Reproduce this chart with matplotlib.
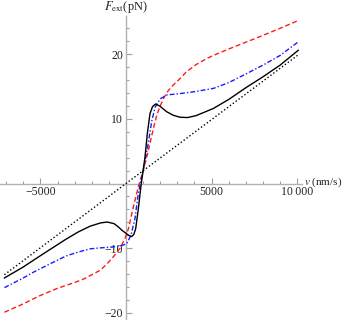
import matplotlib
matplotlib.use("Agg")
import matplotlib.pyplot as plt
from matplotlib.ticker import MultipleLocator, FixedLocator

plt.rcParams['mathtext.fontset'] = 'stix'

# Data (v in nm/s, F in pN)
v_lin = [-7100, 0, 10060]
f_lin = [-14.1, 0.0, 19.9]

v_black = [-7100, -6000, -5400, -4500, -3500, -2800, -2100, -1500, -1100, -700,
           -450, -250, 0, 150, 330, 450, 565, 720, 877, 1000, 1110, 1245, 1400,
           1550, 1735, 1985, 2375, 2765, 3150, 3600, 4100, 5100, 6000, 7050,
           8000, 9000, 10060]
f_black = [-14.6, -12.9, -11.85, -10.3, -8.6, -7.5, -6.6, -6.1, -5.95, -6.2,
           -6.7, -7.2, -7.7, -8.0, -8.2, -7.9, -7.0, -3.9, -0.3, 2.0, 4.1, 7.7,
           10.8, 11.9, 12.3, 11.95, 11.1, 10.55, 10.25, 10.2, 10.5, 11.6, 13.0,
           14.9, 16.5, 18.3, 20.6]

v_blue = [-7100, -6000, -5400, -4500, -3500, -2800, -2100, -1500, -740, -250,
          40, 290, 525, 720, 1000, 1300, 1500, 1700, 2000, 2400, 3150, 4000,
          5100, 6000, 7050, 8000, 9000, 10060]
f_blue = [-16.1, -14.6, -13.7, -12.5, -11.2, -10.6, -10.1, -9.95, -9.8, -9.6,
          -9.3, -8.0, -5.4, -1.5, 2.0, 6.2, 9.6, 11.8, 13.1, 13.7, 13.9, 14.2,
          14.7, 15.6, 17.0, 18.3, 19.8, 21.9]

v_red = [-7100, -6000, -5000, -4000, -3000, -2500, -2000, -1500, -1100, -700,
         -350, -60, 140, 430, 720, 1000, 1250, 1450, 1600, 1800, 2000, 2200,
         2450, 2750, 3150, 3500, 4100, 4700, 5100, 6000, 7050, 8000, 9000, 10060]
f_red = [-19.9, -18.6, -17.3, -16.2, -15.3, -14.8, -14.1, -13.4, -12.4, -11.2,
         -10.0, -8.5, -7.0, -3.6, -0.5, 2.0, 4.5, 6.8, 8.5, 10.6, 12.0, 13.2,
         14.3, 15.2, 16.2, 17.2, 18.4, 19.3, 19.8, 20.8, 21.9, 22.9, 24.0, 25.2]

x_major = [-5000, 5000, 10000]
x_labels = ["\u22125000", "5000", "10\u2009000"]
y_major = [-20, -10, 10, 20]
y_labels = ["\u221220", "\u221210", "10", "20"]

W, H = 348, 320
fig = plt.figure(figsize=(W / 100, H / 100), dpi=100)
ax = fig.add_axes([0, 0, 302 / W, (320 - 16) / H])
ax.set_xlim(-7360, 10280)
ax.set_ylim(-21.1, 25.9)

ax.plot(v_lin, f_lin, color='black', lw=1.0, ls=(0, (1, 1.6)), zorder=3)
ax.plot(v_red, f_red, color='#ff1a1a', lw=1.0, ls=(0, (3.5, 2)), zorder=3)
ax.plot(v_blue, f_blue, color='#1a1aff', lw=1.0, ls=(0, (3.5, 1.5, 1, 1.5)), zorder=3)
ax.plot(v_black, f_black, color='black', lw=1.0, zorder=4)

for s in ['top', 'right']:
    ax.spines[s].set_visible(False)
ax.spines['left'].set_position(('data', 0))
ax.spines['bottom'].set_position(('data', 0))
for s in ['left', 'bottom']:
    ax.spines[s].set_color('#b0b0b0')
    ax.spines[s].set_linewidth(1.0)

ax.xaxis.set_major_locator(FixedLocator(x_major))
ax.set_xticklabels(x_labels)
ax.xaxis.set_minor_locator(MultipleLocator(1000))
ax.yaxis.set_major_locator(FixedLocator(y_major))
ax.set_yticklabels(y_labels)
ax.yaxis.set_minor_locator(MultipleLocator(2))

ax.tick_params(which='both', direction='in', color='#a0a0a0', width=0.8,
               labelsize=8.5, labelcolor='#222222', pad=2)
ax.tick_params(which='major', length=4)
ax.tick_params(which='minor', length=2.5)
for lbl in ax.get_xticklabels() + ax.get_yticklabels():
    lbl.set_fontfamily('Liberation Serif')
ax.patch.set_alpha(0)

fig.text(126 / W, 1 - 7 / H, r"$F_{\mathrm{ext}}$(pN)", ha='center', va='center',
         fontsize=9, family='Liberation Serif', color='#222222')
fig.text(304 / W, 1 - 182 / H, r"$v$ (nm/s)", ha='left', va='center',
         fontsize=8, family='Liberation Serif', color='#222222')

fig.savefig("out.png", dpi=100)
